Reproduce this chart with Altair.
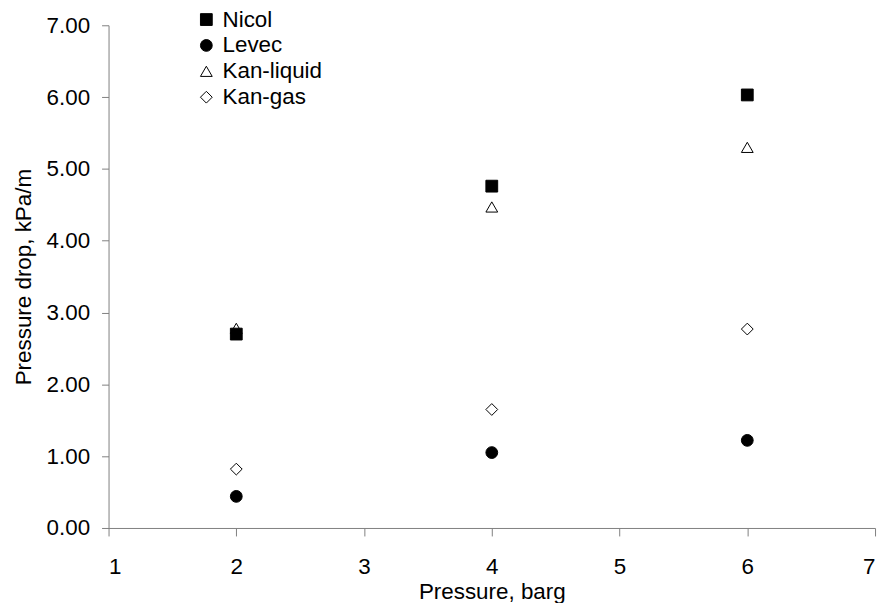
import altair as alt
import pandas as pd

series = ["Nicol", "Levec", "Kan-liquid", "Kan-gas"]
pressure = [2, 4, 6]
nicol = [2.70, 4.76, 6.03]
levec = [0.44, 1.05, 1.22]
kan_liquid = [2.78, 4.47, 5.30]
kan_gas = [0.82, 1.65, 2.77]

x_ticks = [1, 2, 3, 4, 5, 6, 7]
y_ticks = [0, 1, 2, 3, 4, 5, 6, 7]

rows = []
for name, vals in zip(series, [nicol, levec, kan_liquid, kan_gas]):
    for p, v in zip(pressure, vals):
        rows.append({"series": name, "pressure": p, "drop": v})
df = pd.DataFrame(rows)

FONT = "Liberation Sans"
FS = 22.5
AX = "#808080"

leg = alt.Legend(title=None)

chart = (
    alt.Chart(df)
    .mark_point(strokeWidth=1, size=140, opacity=1, fillOpacity=1, strokeOpacity=1)
    .encode(
        x=alt.X(
            "pressure:Q",
            scale=alt.Scale(domain=[1, 7], nice=False, zero=False),
            axis=alt.Axis(
                values=x_ticks, format="d", title="Pressure, barg",
                tickSize=8, labelPadding=20, titlePadding=2,
            ),
        ),
        y=alt.Y(
            "drop:Q",
            scale=alt.Scale(domain=[0, 7], nice=False),
            axis=alt.Axis(
                values=y_ticks, format=".2f", title="Pressure drop, kPa/m",
                tickSize=7, labelPadding=12, titlePadding=11,
            ),
        ),
        shape=alt.Shape(
            "series:N",
            scale=alt.Scale(domain=series, range=["square", "circle", "triangle-up", "diamond"]),
            legend=leg,
        ),
        fill=alt.Fill(
            "series:N",
            scale=alt.Scale(domain=series, range=["black", "black", "transparent", "transparent"]),
            legend=leg,
        ),
        stroke=alt.Stroke(
            "series:N",
            scale=alt.Scale(domain=series, range=["black", "black", "black", "black"]),
            legend=leg,
        ),
    )
    .properties(
        width=770,
        height=505,
        autosize=alt.AutoSizeParams(type="none"),
        padding={"left": 101, "top": 16, "right": 8, "bottom": 74},
    )
    .configure_view(stroke=None)
    .configure_axis(
        grid=False,
        domainColor=AX,
        tickColor=AX,
        domainWidth=1,
        tickWidth=1,
        labelFont=FONT,
        labelFontSize=FS,
        labelColor="black",
        titleFont=FONT,
        titleFontSize=FS,
        titleFontWeight="normal",
        titleColor="black",
    )
    .configure_legend(
        orient="none",
        legendX=87,
        legendY=-17,
        padding=0,
        labelFont=FONT,
        labelFontSize=FS,
        labelColor="black",
        labelOffset=5,
        rowPadding=3,
        symbolSize=140,
        symbolStrokeWidth=1,
    )
)

chart.save("out.html", embed_options={"renderer": "svg", "actions": False})
